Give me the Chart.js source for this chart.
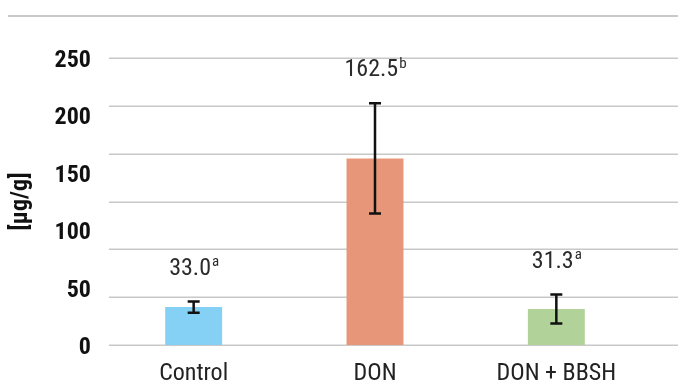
<!DOCTYPE html>
<html>
<head>
<meta charset="utf-8">
<script src="https://cdn.jsdelivr.net/npm/chart.js@4.4.1/dist/chart.umd.min.js"></script>
<style>
  html, body { margin: 0; padding: 0; background: #fff; }
  #wrap { width: 678px; height: 383px; position: relative; }
</style>
</head>
<body>
<div id="wrap"><canvas id="grafico"></canvas></div>
<script>
const categorias = ['Control', 'DON', 'DON + BBSH'];
const valores = [33.0, 162.5, 31.3];
const erros = [4.8, 48, 12.6];
const letras = ['a', 'b', 'a'];
const cores = ['#85d0f5', '#e8967a', '#b1d39a'];
const yTicks = [0, 50, 100, 150, 200, 250];
const linhasGrade = 6; // the grid is split in 6 bands, not on the tick labels

const fonte = "'Roboto Condensed', 'Liberation Sans Narrow', 'DejaVu Sans Condensed', sans-serif";

// grade horizontal + linha superior
const gradePlugin = {
    id: 'grade',
    beforeDatasetsDraw(chart) {
        const ctx = chart.ctx;
        const y = chart.scales.y;
        ctx.save();
        ctx.strokeStyle = '#c8c8c8';
        ctx.lineWidth = 1.5;
        for (let i = 0; i <= linhasGrade; i++) {
            const py = Math.round(y.getPixelForValue(y.max * i / linhasGrade)) + 0.25;
            ctx.beginPath();
            ctx.moveTo(chart.chartArea.left + 6, py);
            ctx.lineTo(chart.width, py);
            ctx.stroke();
        }
        ctx.lineWidth = 2;
        ctx.beginPath();
        ctx.moveTo(8, 16);
        ctx.lineTo(chart.width, 16);
        ctx.stroke();
        ctx.restore();
    }
};

// barras de erro e rótulos com letra sobrescrita
const errosPlugin = {
    id: 'erros',
    afterDatasetsDraw(chart) {
        const ctx = chart.ctx;
        const y = chart.scales.y;
        const meta = chart.getDatasetMeta(0);
        ctx.save();
        meta.data.forEach((bar, i) => {
            const topo = y.getPixelForValue(valores[i] + erros[i]);
            const base = y.getPixelForValue(valores[i] - erros[i]);
            ctx.strokeStyle = '#111';
            ctx.lineWidth = 2.5;
            ctx.beginPath();
            ctx.moveTo(bar.x, topo);
            ctx.lineTo(bar.x, base);
            ctx.moveTo(bar.x - 6, topo);
            ctx.lineTo(bar.x + 6, topo);
            ctx.moveTo(bar.x - 6, base);
            ctx.lineTo(bar.x + 6, base);
            ctx.stroke();

            const texto = valores[i].toFixed(1);
            const fTexto = '24px ' + fonte;
            const fLetra = '15px ' + fonte;
            ctx.font = fTexto;
            const w1 = ctx.measureText(texto).width;
            ctx.font = fLetra;
            const w2 = ctx.measureText(letras[i]).width;
            const x0 = bar.x - (w1 + w2) / 2;
            const ly = topo - 33;
            ctx.fillStyle = '#2b2b2b';
            ctx.textBaseline = 'middle';
            ctx.textAlign = 'left';
            ctx.font = fTexto;
            ctx.fillText(texto, x0, ly);
            ctx.font = fLetra;
            ctx.fillText(letras[i], x0 + w1 + 1, ly - 6);
        });
        ctx.restore();
    }
};

new Chart(document.getElementById('grafico'), {
    type: 'bar',
    data: {
        labels: categorias,
        datasets: [{
            data: valores,
            backgroundColor: cores,
            barPercentage: 0.314,
            categoryPercentage: 1.0
        }]
    },
    options: {
        responsive: true,
        maintainAspectRatio: false,
        animation: false,
        layout: { padding: { left: 7, right: 31, top: 58, bottom: 0 } },
        plugins: { legend: { display: false }, tooltip: { enabled: false } },
        scales: {
            x: {
                grid: { display: false, drawTicks: false },
                border: { display: false },
                ticks: { color: '#222', font: { family: fonte, size: 24 }, padding: 15 },
                afterFit(scale) { scale.height = 38; }
            },
            y: {
                min: 0,
                max: 250,
                afterBuildTicks(scale) { scale.ticks = yTicks.map(v => ({ value: v })); },
                grid: { display: false, drawTicks: false },
                border: { display: false },
                ticks: { color: '#111', font: { family: fonte, size: 24, weight: 'bold' }, padding: 12, labelOffset: 3 },
                title: {
                    display: true,
                    text: '[µg/g]',
                    color: '#111',
                    font: { family: fonte, size: 24, weight: 'bold' },
                    padding: 0
                },
                afterFit(scale) { scale.width = 96; }
            }
        }
    },
    plugins: [gradePlugin, errosPlugin]
});
</script>
</body>
</html>
